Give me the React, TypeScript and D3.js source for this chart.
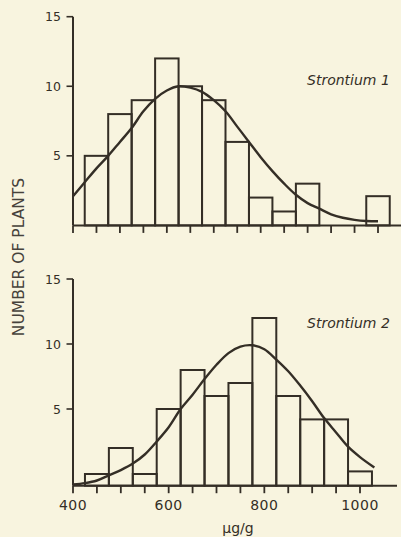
import { useEffect, useRef } from "react";
import * as d3 from "d3";

// histogram bins, 50 µg/g wide, lower edges
const binStarts = [425, 475, 525, 575, 625, 675, 725, 775, 825, 875, 925, 975, 1025];
const binWidth = 50;

// counts
const sr1Counts = [5, 8, 9, 12, 10, 9, 6, 2, 1, 3, 0, 0, 2.1];
// bottom panel: bars rise from the axis line, which sits a little below the 0 level of the ticks
const sr2Counts = [0, 2, 0, 5, 8, 6, 7, 12, 6, 4.2, 4.2, 0.2];

// fitted normal curves
const sr1CurveX = [400, 425, 450, 475, 500, 525, 550, 575, 600, 625, 650, 675, 700, 725, 750, 775, 800, 825, 850, 875, 900, 925, 950, 975, 1000, 1025, 1050];
const sr1CurveY = [2.1, 3.1, 4.1, 5.0, 6.0, 7.0, 8.2, 9.1, 9.7, 10, 9.9, 9.6, 9.0, 8.2, 7.1, 6.0, 4.9, 3.9, 3.0, 2.2, 1.6, 1.2, 0.8, 0.55, 0.4, 0.32, 0.3];
const sr2CurveX = [400, 425, 450, 475, 500, 525, 550, 575, 600, 625, 650, 675, 700, 725, 750, 775, 800, 825, 850, 875, 900, 925, 950, 975, 1000, 1030];
const sr2CurveY = [-0.8, -0.7, -0.5, -0.1, 0.3, 0.8, 1.5, 2.5, 3.6, 5.0, 6.1, 7.3, 8.4, 9.3, 9.8, 9.9, 9.6, 8.8, 7.9, 6.8, 5.6, 4.3, 3.2, 2.1, 1.3, 0.5];

const yTicks = [5, 10, 15];
const sr1XTicks = d3.range(400, 1051, 50);
const sr2XTicks = d3.range(400, 1001, 50);
const sr2XLabels = [400, 600, 800, 1000];

const ink = "#342e26";
const paper = "#f8f4df";
const font = "'DejaVu Sans', sans-serif";

type Panel = {
  name: string;
  counts: number[];
  curveX: number[];
  curveY: number[];
  xDomain: [number, number];
  xRange: [number, number];
  yRange: [number, number];
  base: number;
  axisEnd: number;
  xTicks: number[];
  xLabels: number[];
  labelY: number;
};

export default function App() {
  const ref = useRef<SVGSVGElement>(null);

  useEffect(() => {
    if (!ref.current) return;
    const el = ref.current;
    d3.select(el).selectAll("*").remove();
    const svg = d3.select(el);

    svg.append("rect").attr("width", 401).attr("height", 537).attr("fill", paper);

    const panels: Panel[] = [
      {
        name: "Strontium 1",
        counts: sr1Counts,
        curveX: sr1CurveX,
        curveY: sr1CurveY,
        xDomain: [400, 1050],
        xRange: [73, 378],
        yRange: [225.4, 16.7],
        base: 0,
        axisEnd: 401,
        xTicks: sr1XTicks,
        xLabels: [],
        labelY: 85,
      },
      {
        name: "Strontium 2",
        counts: sr2Counts,
        curveX: sr2CurveX,
        curveY: sr2CurveY,
        xDomain: [400, 1000],
        xRange: [73, 360],
        yRange: [474, 279],
        base: -0.9,
        axisEnd: 397,
        xTicks: sr2XTicks,
        xLabels: sr2XLabels,
        labelY: 328,
      },
    ];

    panels.forEach((p) => {
      const x = d3.scaleLinear().domain(p.xDomain).range(p.xRange);
      const y = d3.scaleLinear().domain([0, 15]).range(p.yRange);
      const y0 = y(p.base);
      const g = svg.append("g");

      // bars
      const bins = binStarts
        .map((s, i) => ({ s, c: p.counts[i] }))
        .filter((d) => d.c !== undefined && y(d.c) < y0 - 0.5);
      g.selectAll("rect.bar")
        .data(bins)
        .join("rect")
        .attr("class", "bar")
        .attr("x", (d) => x(d.s))
        .attr("width", (d) => x(d.s + binWidth) - x(d.s))
        .attr("y", (d) => y(d.c))
        .attr("height", (d) => y0 - y(d.c))
        .attr("fill", "none")
        .attr("stroke", ink)
        .attr("stroke-width", 2);

      // fitted curve
      const line = d3
        .line<number>()
        .x((_, i) => x(p.curveX[i]))
        .y((v) => y(v))
        .curve(d3.curveCatmullRom);
      g.append("path")
        .attr("d", line(p.curveY))
        .attr("fill", "none")
        .attr("stroke", ink)
        .attr("stroke-width", 2.4);

      // axes
      g.append("line")
        .attr("x1", x(400)).attr("x2", p.axisEnd)
        .attr("y1", y0).attr("y2", y0)
        .attr("stroke", ink).attr("stroke-width", 2);
      g.append("line")
        .attr("x1", x(400)).attr("x2", x(400))
        .attr("y1", y(15)).attr("y2", y0)
        .attr("stroke", ink).attr("stroke-width", 2);

      g.selectAll("line.xt")
        .data(p.xTicks)
        .join("line")
        .attr("class", "xt")
        .attr("x1", (d) => x(d)).attr("x2", (d) => x(d))
        .attr("y1", y0).attr("y2", y0 + 7.5)
        .attr("stroke", ink).attr("stroke-width", 1.8);

      g.selectAll("line.yt")
        .data(yTicks)
        .join("line")
        .attr("class", "yt")
        .attr("x1", x(400) - 6.5).attr("x2", x(400))
        .attr("y1", (d) => y(d)).attr("y2", (d) => y(d))
        .attr("stroke", ink).attr("stroke-width", 1.6);

      g.selectAll("text.yl")
        .data(yTicks)
        .join("text")
        .attr("class", "yl")
        .attr("x", x(400) - 12)
        .attr("y", (d) => y(d) + 4.5)
        .attr("text-anchor", "end")
        .style("font-family", font)
        .style("font-size", "12.5px")
        .style("fill", ink)
        .text((d) => String(d));

      g.selectAll("text.xl")
        .data(p.xLabels)
        .join("text")
        .attr("class", "xl")
        .attr("x", (d) => x(d))
        .attr("y", y0 + 24)
        .attr("text-anchor", "middle")
        .style("font-family", font)
        .style("font-size", "14px")
        .style("letter-spacing", "0.5px")
        .style("fill", ink)
        .text((d) => String(d));

      g.append("text")
        .attr("x", 307)
        .attr("y", p.labelY)
        .style("font-family", font)
        .style("font-style", "italic")
        .style("font-size", "14px")
        .style("fill", ink)
        .text(p.name);
    });

    svg.append("text")
      .attr("x", 238)
      .attr("y", 533)
      .attr("text-anchor", "middle")
      .style("font-family", font)
      .style("font-size", "14px")
      .style("fill", ink)
      .text("µg/g");

    svg.append("text")
      .attr("transform", "translate(24,257) rotate(-90)")
      .attr("text-anchor", "middle")
      .style("font-family", font)
      .style("font-size", "15.5px")
      .style("fill", "#46423b")
      .text("NUMBER OF PLANTS");
  }, []);

  return (
    <svg
      ref={ref}
      width={401}
      height={537}
      style={{ position: "absolute", left: 0, top: 0, display: "block" }}
    />
  );
}
